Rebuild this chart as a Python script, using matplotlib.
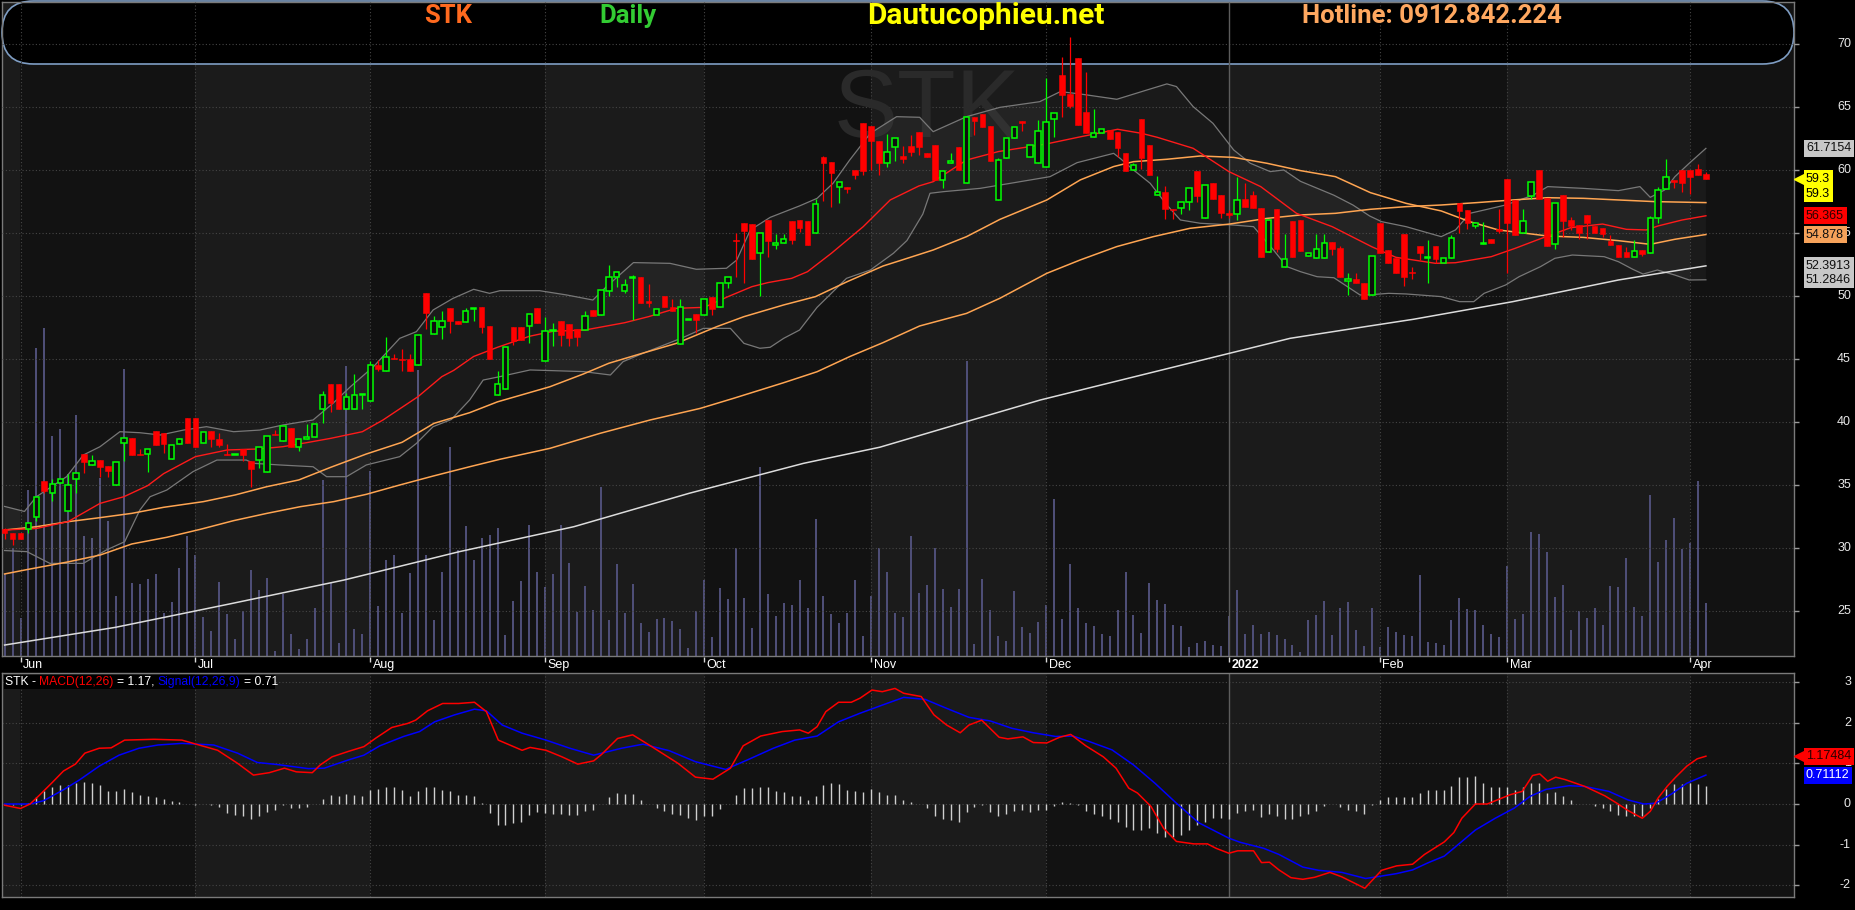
import numpy as np
import matplotlib.pyplot as plt
import matplotlib.transforms as mtransforms
from matplotlib.patches import FancyBboxPatch, Rectangle

plt.rcParams['font.family'] = ['Liberation Sans', 'DejaVu Sans']

# Time axis -------------------------------------------------------------
# bar index of the first session of each month (28 May 2021 .. 5 Apr 2022)
month_labels = ['Jun', 'Jul', 'Aug', 'Sep', 'Oct', 'Nov', 'Dec', '2022', 'Feb', 'Mar', 'Apr']
month_idx = [2, 24, 46, 68, 88, 109, 131, 154, 173, 189, 212]

# Daily candles (price, thousand VND) -----------------------------------
opens = [
    31.48, 31.16, 31.16, 31.48, 32.49, 35.32, 34.34, 35.13, 32.96, 35.50,
    37.46, 36.56, 36.98, 36.51, 35.03, 38.31, 38.70, 37.46, 37.46, 39.31,
    39.15, 37.04, 38.25, 40.29, 40.29, 38.36, 39.31, 38.62, 37.46, 37.35,
    37.83, 36.93, 36.98, 36.00, 39.05, 38.47, 39.50, 37.99, 38.68, 38.78,
    41.00, 42.99, 42.99, 41.00, 41.00, 42.12, 41.69, 44.50, 44.02, 45.08,
    44.97, 44.97, 44.50, 50.21, 46.98, 47.51, 49.02, 47.99, 47.94, 48.98,
    49.10, 47.59, 42.12, 42.59, 47.51, 47.51, 47.65, 49.02, 44.82, 47.20,
    47.99, 47.78, 47.35, 47.30, 48.89, 48.47, 50.42, 51.48, 50.42, 51.40,
    51.48, 49.58, 48.49, 50.00, 49.10, 46.16, 48.07, 48.55, 48.47, 49.90,
    49.10, 51.01, 54.45, 55.77, 55.71, 53.44, 56.03, 54.02, 54.18, 55.93,
    56.03, 55.93, 54.97, 61.00, 60.64, 58.62, 58.62, 60.00, 63.70, 63.49,
    62.28, 60.53, 61.80, 61.11, 61.90, 63.02, 61.38, 61.96, 59.21, 60.53,
    61.80, 58.99, 64.18, 64.42, 63.49, 57.62, 60.95, 62.54, 63.89, 61.00,
    60.58, 60.21, 64.02, 67.54, 66.03, 68.92, 64.60, 62.65, 62.91, 63.17,
    63.02, 61.32, 59.97, 64.05, 61.96, 57.99, 58.25, 56.93, 56.96, 57.49,
    59.95, 56.16, 58.99, 57.99, 56.56, 56.50, 57.67, 57.99, 56.96, 53.47,
    56.90, 52.27, 55.93, 56.03, 53.18, 52.99, 52.99, 54.29, 53.78, 51.16,
    51.32, 51.00, 50.05, 55.77, 53.65, 53.04, 54.92, 51.93, 53.99, 52.99,
    53.97, 52.64, 52.99, 57.35, 56.82, 55.58, 54.13, 54.50, 55.29, 59.28,
    57.62, 54.97, 57.96, 60.00, 57.78, 54.13, 58.01, 56.03, 55.63, 56.43,
    55.58, 55.37, 54.34, 54.05, 53.49, 53.07, 53.65, 53.38, 56.16, 58.46,
    59.18, 59.97, 59.97, 60.05, 59.71]
highs = [
    31.60, 31.16, 31.16, 31.96, 34.07, 35.32, 35.45, 35.45, 35.87, 35.92,
    37.46, 37.35, 36.98, 36.51, 36.83, 38.70, 38.70, 37.85, 37.88, 39.31,
    39.15, 38.20, 38.76, 40.29, 40.29, 39.23, 39.31, 39.15, 38.25, 37.38,
    37.83, 36.93, 37.99, 38.90, 39.36, 39.66, 39.50, 38.68, 39.84, 39.81,
    42.43, 42.99, 42.99, 42.33, 43.81, 42.17, 44.87, 44.92, 46.72, 45.40,
    45.77, 45.40, 46.93, 50.21, 48.41, 48.78, 49.02, 47.99, 49.02, 49.08,
    49.10, 47.59, 44.05, 45.98, 47.51, 47.51, 48.55, 49.02, 48.36, 47.88,
    47.99, 47.78, 47.35, 48.81, 48.89, 50.45, 52.46, 51.93, 51.32, 51.64,
    51.48, 50.93, 48.99, 50.00, 49.74, 49.74, 48.12, 48.55, 49.74, 49.90,
    51.06, 51.48, 54.97, 55.77, 55.71, 54.97, 56.03, 54.92, 54.92, 55.93,
    56.03, 55.93, 57.70, 61.11, 60.64, 59.02, 58.62, 60.00, 63.70, 63.49,
    62.28, 62.86, 62.51, 61.90, 62.80, 63.02, 61.38, 61.96, 59.95, 61.38,
    61.80, 64.18, 64.18, 64.42, 63.49, 60.95, 62.54, 63.44, 63.89, 61.96,
    63.97, 67.28, 64.50, 69.00, 70.58, 68.92, 67.80, 64.81, 63.25, 63.17,
    63.02, 61.32, 60.58, 64.05, 61.96, 59.53, 58.73, 56.93, 57.49, 58.60,
    59.95, 58.84, 58.99, 57.99, 56.82, 59.47, 58.94, 58.36, 56.96, 56.03,
    56.90, 54.92, 55.93, 56.03, 53.44, 54.92, 54.92, 54.29, 53.97, 51.80,
    51.85, 51.00, 53.17, 55.77, 53.65, 53.04, 54.92, 52.33, 53.99, 54.44,
    53.97, 52.99, 54.84, 57.35, 56.82, 55.90, 55.90, 54.50, 56.88, 59.28,
    57.62, 56.88, 59.02, 60.00, 57.78, 57.35, 58.01, 56.30, 55.63, 56.43,
    55.58, 55.37, 54.81, 54.05, 53.86, 54.44, 53.65, 56.35, 58.68, 60.84,
    59.18, 59.97, 59.97, 60.47, 59.81]
lows = [
    30.70, 30.24, 30.74, 31.20, 32.17, 34.39, 33.76, 35.13, 32.96, 34.39,
    35.98, 36.56, 35.66, 35.66, 35.03, 36.93, 37.41, 37.40, 36.06, 38.20,
    37.51, 37.04, 38.25, 38.36, 38.04, 38.36, 38.00, 38.04, 37.35, 37.35,
    36.93, 34.81, 36.32, 36.00, 38.94, 38.47, 37.99, 37.72, 38.68, 38.78,
    39.89, 40.82, 41.00, 41.00, 41.00, 41.06, 41.69, 44.07, 44.02, 44.97,
    44.07, 44.02, 44.50, 47.35, 46.98, 46.56, 47.04, 47.78, 47.94, 48.04,
    47.04, 44.97, 42.12, 42.59, 46.11, 46.51, 46.24, 47.88, 44.82, 46.03,
    46.06, 46.03, 46.03, 47.30, 48.44, 48.47, 50.03, 50.74, 50.26, 48.10,
    49.47, 49.16, 48.49, 49.10, 48.78, 46.16, 48.07, 47.07, 48.47, 48.52,
    49.10, 50.66, 51.53, 51.06, 52.96, 50.00, 53.12, 53.70, 54.18, 54.13,
    55.11, 54.07, 54.97, 57.57, 57.04, 57.36, 58.15, 59.26, 59.58, 60.00,
    59.63, 60.27, 60.74, 60.58, 61.11, 61.22, 61.06, 59.21, 58.54, 60.53,
    60.00, 58.99, 62.75, 63.44, 60.74, 57.62, 60.95, 62.54, 63.07, 61.00,
    60.58, 60.21, 62.65, 64.18, 64.90, 63.57, 62.91, 62.65, 62.91, 62.46,
    61.06, 59.95, 59.97, 60.11, 59.58, 57.99, 56.08, 56.08, 56.50, 56.82,
    57.49, 56.16, 57.67, 56.19, 56.19, 56.03, 57.09, 56.96, 53.12, 53.47,
    53.47, 52.27, 53.07, 53.60, 53.18, 52.99, 52.99, 53.23, 51.53, 50.05,
    51.00, 49.73, 50.05, 53.38, 52.59, 51.85, 50.79, 51.32, 52.86, 51.00,
    52.59, 52.64, 52.99, 54.97, 55.29, 55.37, 54.13, 54.23, 54.97, 51.80,
    54.84, 54.97, 57.67, 57.70, 53.99, 53.70, 54.71, 55.24, 54.50, 54.50,
    54.97, 54.65, 54.02, 53.12, 53.07, 53.07, 53.17, 53.38, 55.82, 58.46,
    58.54, 58.28, 58.10, 59.58, 59.30]
closes = [
    31.17, 30.74, 30.74, 31.96, 34.07, 34.55, 35.05, 35.45, 34.97, 35.92,
    36.83, 36.93, 36.45, 36.14, 36.83, 38.70, 37.41, 37.40, 37.88, 38.20,
    38.25, 38.20, 38.62, 38.36, 38.04, 39.23, 38.62, 38.20, 37.35, 37.38,
    37.35, 36.24, 37.99, 38.90, 38.94, 39.66, 37.99, 38.68, 38.76, 39.81,
    42.12, 41.48, 41.00, 41.96, 42.12, 42.17, 44.50, 44.23, 45.19, 44.97,
    44.93, 44.02, 46.93, 48.62, 47.99, 47.99, 47.99, 47.78, 48.78, 49.08,
    47.57, 44.97, 42.99, 45.98, 46.46, 46.51, 48.55, 47.88, 47.20, 47.30,
    46.88, 46.67, 46.72, 48.41, 48.44, 50.45, 51.48, 51.93, 50.85, 51.48,
    49.47, 49.47, 48.99, 49.10, 48.78, 49.16, 48.12, 48.12, 49.74, 48.99,
    51.06, 51.48, 54.34, 55.19, 52.96, 54.97, 54.39, 54.18, 54.50, 54.45,
    55.40, 54.07, 57.28, 60.53, 59.79, 59.02, 58.47, 59.63, 59.90, 62.33,
    60.53, 61.40, 62.51, 60.90, 61.43, 61.80, 61.06, 59.21, 59.95, 60.74,
    60.00, 64.18, 63.86, 63.44, 60.74, 60.79, 62.54, 63.44, 63.70, 61.96,
    63.07, 63.81, 64.50, 65.95, 65.08, 63.57, 62.91, 62.91, 63.25, 62.46,
    61.77, 59.95, 60.37, 60.95, 59.58, 58.25, 56.93, 56.82, 57.49, 58.60,
    57.94, 58.84, 57.67, 56.56, 56.40, 57.62, 57.09, 56.96, 53.12, 56.03,
    53.73, 52.96, 53.07, 53.60, 53.44, 53.73, 54.18, 53.70, 51.53, 51.32,
    51.00, 49.73, 53.17, 53.38, 52.59, 51.85, 51.53, 51.85, 53.38, 53.12,
    52.96, 52.99, 54.57, 56.77, 55.82, 55.77, 54.18, 54.23, 55.19, 55.77,
    54.84, 55.95, 59.02, 57.70, 53.99, 57.35, 55.98, 55.56, 54.97, 55.77,
    54.97, 54.89, 54.02, 53.12, 53.07, 53.60, 53.33, 56.16, 58.38, 59.42,
    59.02, 58.99, 59.42, 59.58, 59.30]

# Volume (relative units) -------------------------------------------------
volume = [
    82, 108, 38, 166, 308, 328, 220, 227, 182, 241,
    120, 118, 178, 135, 60, 287, 73, 72, 77, 82,
    43, 54, 88, 120, 101, 39, 25, 74, 42, 17,
    45, 86, 66, 78, 5, 62, 22, 7, 17, 48,
    176, 73, 13, 290, 27, 22, 185, 50, 96, 101,
    43, 83, 286, 101, 36, 84, 209, 106, 130, 96,
    118, 121, 128, 21, 55, 75, 131, 84, 69, 82,
    131, 93, 44, 70, 46, 169, 36, 92, 43, 72,
    33, 24, 37, 38, 35, 27, 8, 45, 76, 19,
    68, 57, 108, 58, 28, 189, 62, 40, 53, 51,
    76, 48, 137, 60, 42, 33, 43, 76, 20, 60,
    108, 84, 43, 39, 120, 63, 71, 108, 67, 49,
    67, 295, 12, 77, 46, 20, 15, 65, 29, 23,
    34, 51, 157, 37, 92, 48, 33, 30, 22, 20,
    46, 84, 41, 23, 73, 56, 52, 31, 30, 9,
    13, 15, 11, 10, 40, 66, 22, 31, 22, 24,
    21, 17, 11, 4, 36, 41, 55, 21, 48, 54,
    26, 10, 48, 9, 29, 24, 21, 20, 81, 14,
    13, 11, 36, 58, 47, 46, 31, 22, 19, 90,
    37, 42, 124, 122, 104, 59, 71, 26, 45, 38,
    48, 31, 70, 69, 98, 49, 40, 161, 94, 116,
    138, 107, 113, 175, 53]

# Moving averages (sampled along the curves) ----------------------------
ma20_x = [0, 4, 8, 12, 15, 18, 20, 24, 28, 32, 35, 38, 41, 45, 47.6, 52, 55, 56.5, 59, 62,
          66, 69, 73, 78, 81, 84.5, 88, 91, 94, 96, 99, 101, 104, 108, 111.4, 115, 116.8, 121, 125, 131,
          135, 140, 143, 145, 149.5, 154, 158, 162.5, 167, 172, 175, 180, 182.5, 187, 190, 193, 197, 201,
          204, 206.5, 208, 211, 214]
ma20_y = [31.43, 31.55, 32.1, 33.54, 34.07, 34.95, 35.9, 37.25, 37.78, 37.86, 38.04, 38.36, 38.7, 39.23,
          40.16, 42.01, 43.6, 44.1, 45.2, 45.93, 46.8, 47.2, 47.3, 47.88, 48.36, 49.02, 49.1, 49.95, 50.74,
          51.06, 51.4, 51.93, 53.39, 55.5, 57.62, 58.73, 59.07, 60.79, 61.46, 62.06, 62.59, 63.23, 62.91,
          62.59, 61.72, 59.87, 58.68, 56.56, 55.5, 53.9, 53.07, 52.59, 52.64, 53.12, 53.78, 54.5, 55.42,
          55.71, 55.29, 55.24, 55.56, 56.03, 56.365]
ma50_x = [0, 4, 8, 12, 16, 20, 25, 29, 33, 37, 41, 45.5, 50, 54, 58.5, 62, 68.6, 72.8, 76, 79.5,
          84.5, 89.6, 93, 98, 102, 106, 110.5, 112.6, 116.8, 121, 125.2, 131.1, 135.3, 139.5, 142, 146.2,
          150.4, 154.6, 158.8, 163, 167.4, 171.8, 176.3, 180.7, 184.3, 187.9, 191.4, 194.1, 198.6, 203,
          207, 210.1, 214]
ma50_y = [31.43, 31.69, 32.09, 32.41, 32.75, 33.23, 33.68, 34.21, 34.87, 35.4, 36.4, 37.46, 38.39, 39.89,
          40.74, 41.6, 42.8, 43.81, 44.66, 45.32, 46.24, 47.57, 48.36, 49.29, 49.95, 51.14, 52.38, 52.8,
          53.65, 54.71, 56.08, 57.62, 59.21, 60.27, 60.66, 60.85, 61.11, 61.0, 60.53, 59.95, 59.47, 58.2,
          57.35, 56.75, 55.9, 55.24, 54.97, 54.76, 54.65, 54.39, 54.1, 54.5, 54.878]
ma100_x = [0, 3, 8, 12, 16, 20.4, 24.6, 28.8, 33, 37.2, 41.4, 45.5, 49.7, 53.9, 58.5, 62.3, 68.6, 74.9,
           81.2, 87.5, 91.7, 98, 102.2, 106.3, 110.5, 115.1, 121, 125.2, 131.1, 135.3, 139.9, 144.5, 149.1,
           154.1, 158.8, 163, 167.4, 171.8, 176.3, 180.7, 185.2, 189.7, 194.1, 198.6, 203, 207.5, 214]
ma100_y = [27.94, 28.31, 28.9, 29.44, 30.32, 30.85, 31.48, 32.17, 32.75, 33.28, 33.68, 34.26, 35.0, 35.71,
           36.45, 37.04, 37.91, 39.1, 40.16, 41.08, 41.88, 43.12, 43.99, 45.19, 46.30, 47.62, 48.62, 49.82,
           51.8, 52.86, 53.92, 54.71, 55.37, 55.71, 56.16, 56.43, 56.56, 56.88, 57.09, 57.22, 57.41, 57.62,
           57.8, 57.75, 57.62, 57.49, 57.41]
ma200_x = [0, 13.9, 28.3, 42.7, 57.2, 71.6, 86.1, 100.5, 110.1, 121, 130.3, 161.7, 171.7, 177.2, 189.7, 203, 214]
ma200_y = [22.3, 23.7, 25.56, 27.46, 29.71, 31.69, 34.34, 36.72, 38.0, 40.03, 41.75, 46.64, 47.62, 48.15,
           49.55, 51.27, 52.3913]

# Bollinger bands ---------------------------------------------------------
bb_up_x = [0, 2.5, 4, 7.8, 9.9, 12, 14.5, 17, 19.6, 22.5, 25.4, 28.8, 32.1, 35, 38.8, 41.3, 43.5, 46.4,
           49.7, 51.8, 53.9, 56.4, 59, 61, 62.3, 67.3, 70.7, 74, 75.7, 79.1, 83.7, 87, 90.8, 92.1, 93.8,
           96.3, 100, 102.2, 104.2, 106.3, 108.9, 112.2, 115.1, 116.8, 121, 125.2, 130.2, 132.8, 135.3,
           139.9, 143.7, 146.2, 147.4, 149.5, 152, 154.6, 156.7, 159.2, 160.9, 163, 167.2, 169.6, 171.7,
           173.2, 176.3, 180.7, 182.5, 184.3, 186.1, 188.8, 192.3, 194.1, 198.6, 203, 205.7, 207, 208.8,
           210.1, 211.9, 214]
bb_up_y = [33.3, 32.9, 34.07, 35.66, 37.38, 38.04, 39.23, 39.15, 38.97, 39.36, 39.63, 39.23, 39.36, 39.76,
           40.16, 41.48, 42.8, 44.39, 46.64, 47.17, 48.89, 49.81, 50.53, 50.21, 50.42, 50.42, 50.08, 49.68,
           50.74, 52.65, 52.59, 52.12, 52.2, 52.86, 55.24, 56.24, 57.15, 57.75, 58.94, 60.79, 62.91, 64.23,
           64.18, 63.04, 64.23, 64.97, 65.42, 66.22, 66.03, 65.61, 66.35, 66.83, 66.62, 65.03, 63.7, 61.59,
           60.53, 59.87, 60.0, 59.1, 58.0, 57.22, 56.35, 55.9, 55.5, 54.71, 55.24, 56.56, 56.82, 57.22,
           58.01, 58.68, 58.54, 58.36, 58.68, 57.83, 58.41, 59.47, 60.53, 61.7154]
bb_lo_x = [0, 2.8, 5.7, 9.9, 12.8, 15.1, 17, 18.3, 20.4, 23.7, 26.7, 30.4, 31.3, 34.6, 38.8, 40.5, 43,
           45.5, 49.7, 51.8, 53.9, 56.2, 58.5, 60.2, 62.3, 66.1, 72.8, 76.2, 77.8, 80.3, 85.4, 87.9, 91.3,
           93, 95, 96.3, 98, 100, 102.2, 104.2, 105.9, 108.9, 111.8, 113.5, 114.3, 115.5, 116.4, 118.1,
           122.7, 126.5, 131.5, 134.9, 139.5, 140.3, 142, 144.1, 146.2, 147.9, 150.4, 154.6, 157.1, 159.6,
           161.3, 163, 165.1, 167.2, 170.5, 171.8, 174.1, 176.3, 180.7, 183, 184.8, 186.1, 188.8, 190.5,
           193.2, 195, 197.2, 201.2, 203, 204.8, 206.1, 207.9, 210.1, 211.9, 214]
bb_lo_y = [29.8, 29.71, 28.78, 28.78, 29.84, 30.5, 33.0, 34.07, 34.6, 36.06, 36.98, 36.98, 36.72, 36.59,
           36.45, 35.66, 35.66, 36.59, 37.25, 38.3, 39.63, 40.2, 41.75, 43.33, 43.6, 44.13, 44.0, 43.73,
           44.79, 45.45, 46.72, 47.43, 47.43, 46.24, 45.85, 45.93, 46.64, 47.3, 49.1, 50.34, 51.4, 52.06,
           53.39, 54.4, 55.24, 56.5, 58.15, 58.28, 58.54, 58.94, 59.47, 60.58, 61.32, 60.93, 60.0, 58.94,
           57.22, 56.03, 55.77, 55.63, 55.5, 53.65, 52.33, 51.93, 51.53, 51.45, 50.08, 50.1, 50.21, 50.16,
           49.95, 49.55, 49.55, 50.21, 50.87, 51.53, 52.33, 52.99, 53.25, 53.12, 52.72, 52.12, 51.74,
           52.06, 51.66, 51.27, 51.2846]

# MACD(12,26) and signal(9) -------------------------------------------
macd_x = [0, 2, 3.2, 4.4, 5.9, 7.4, 8.9, 10.1, 11.9, 13.4,
          15.1, 18.8, 22.3, 24.3, 26.8, 29.3, 31.3, 33.3, 35.2, 36.7,
          38.7, 39.7, 41.2, 43.2, 45.2, 46.7, 48.7, 50.7, 51.7, 53.2,
          55.1, 57.1, 59.1, 60.6, 62.1, 65.1, 66.1, 68.1, 70.1, 72.1,
          74.1, 75.1, 77.1, 79, 81.4, 84.7, 86.9, 89.1, 91.3, 92.9,
          95.1, 97.8, 100, 101.1, 102.2, 103.3, 104.9, 106.5, 107.6, 109.1,
          110.4, 112, 113.1, 115.3, 116.9, 118.5, 120.2, 121.3, 122.9, 125.1,
          126.2, 128.1, 129.4, 131.1, 132.7, 134.1, 136, 138.2, 139.8, 141.4,
          142.5, 144.2, 145.8, 147.4, 149.6, 151.3, 152.4, 154, 155.1, 157.1,
          158.1, 159.1, 160.3, 161.8, 163.3, 164.8, 166.7, 168.2, 171.1, 173.2,
          175.1, 177.1, 178.6, 181.1, 182.3, 183.3, 185, 186.5, 188, 189.4,
          190.9, 192.2, 193.1, 194.1, 195.1, 196.3, 198.8, 201.3, 202.8, 204.2,
          206, 207, 208, 209.2, 210.2, 211.6, 212.9, 214]
macd_y = [-0.03, -0.11, 0.0, 0.22, 0.51, 0.81, 0.98, 1.25, 1.37, 1.38,
          1.57, 1.59, 1.57, 1.46, 1.32, 1.0, 0.71, 0.77, 0.88, 0.79,
          0.77, 0.96, 1.16, 1.29, 1.41, 1.62, 1.88, 1.98, 2.06, 2.29,
          2.47, 2.47, 2.5, 2.27, 1.57, 1.32, 1.39, 1.32, 1.16, 0.98,
          1.06, 1.22, 1.61, 1.7, 1.41, 1.0, 0.66, 0.61, 0.88, 1.43,
          1.67, 1.78, 1.82, 1.74, 1.9, 2.27, 2.5, 2.5, 2.6, 2.8,
          2.76, 2.84, 2.72, 2.64, 2.19, 1.94, 1.75, 1.94, 2.06, 1.64,
          1.6, 1.65, 1.51, 1.5, 1.64, 1.71, 1.43, 1.16, 0.88, 0.39,
          0.27, -0.06, -0.6, -0.92, -0.98, -0.98, -1.09, -1.21, -1.15, -1.15,
          -1.44, -1.43, -1.62, -1.81, -1.85, -1.8, -1.68, -1.79, -2.07, -1.63,
          -1.52, -1.48, -1.24, -0.93, -0.70, -0.35, 0.0, 0.0, 0.12, 0.23,
          0.31, 0.7, 0.74, 0.56, 0.66, 0.6, 0.43, 0.2, 0.02, -0.16,
          -0.35, -0.18, 0.15, 0.45, 0.66, 0.93, 1.11, 1.17484]
signal_x = [0, 3.2, 4.9, 7.4, 9.4, 11.9, 14.4, 16.9, 19.3, 22.3,
            26.3, 29.3, 31.8, 34.3, 38.2, 40.2, 43.2, 45.2, 47.2, 50.2,
            52.2, 54.1, 56.6, 59.1, 60.6, 62.6, 65.1, 68.1, 71.1, 74.1,
            77.6, 80.3, 83.6, 86.9, 90.7, 93.4, 96.7, 99.4, 102.2, 104.9,
            107.6, 110.4, 113.1, 115.8, 118.5, 121.3, 124, 126.7, 129.4, 132.2,
            134.4, 136.5, 139.3, 142, 144.7, 147.4, 150.2, 154, 155.4, 158.4,
            160.3, 163.3, 165.3, 168.2, 171.2, 173.2, 175.1, 177.1, 179.1, 181.1,
            183, 185, 187.5, 189.9, 191.9, 193.9, 196.8, 198.8, 201.8, 204.2,
            206.2, 207.7, 209.7, 211.6, 214]
signal_y = [0.0, 0.0, 0.08, 0.35, 0.59, 0.93, 1.2, 1.37, 1.45, 1.49,
            1.45, 1.25, 1.02, 0.97, 0.87, 0.88, 1.08, 1.2, 1.43, 1.66,
            1.78, 2.02, 2.19, 2.33, 2.29, 1.94, 1.74, 1.57, 1.37, 1.2,
            1.37, 1.47, 1.31, 1.04, 0.85, 1.08, 1.37, 1.57, 1.67, 2.02,
            2.23, 2.43, 2.62, 2.57, 2.35, 2.13, 2.04, 1.86, 1.75, 1.66,
            1.67, 1.53, 1.33, 0.96, 0.51, 0.02, -0.46, -0.84, -0.94, -1.09,
            -1.24, -1.55, -1.63, -1.68, -1.83, -1.77, -1.71, -1.62, -1.44, -1.28,
            -0.97, -0.64, -0.35, -0.1, 0.19, 0.36, 0.45, 0.43, 0.31, 0.1,
            0.0, 0.02, 0.25, 0.51, 0.71112]
hist = [
    0.0, -0.03, -0.03, 0.02, 0.17, 0.31, 0.41, 0.46, 0.46, 0.52,
    0.53, 0.52, 0.46, 0.33, 0.31, 0.38, 0.3, 0.21, 0.2, 0.16,
    0.13, 0.08, 0.05, 0.01, -0.02, -0.01, -0.03, -0.08, -0.22, -0.26,
    -0.3, -0.38, -0.3, -0.2, -0.14, -0.03, -0.1, -0.1, -0.07, 0.0,
    0.13, 0.21, 0.2, 0.25, 0.23, 0.2, 0.34, 0.38, 0.41, 0.41,
    0.35, 0.2, 0.31, 0.43, 0.43, 0.35, 0.33, 0.23, 0.21, 0.19,
    0.02, -0.22, -0.52, -0.52, -0.47, -0.43, -0.28, -0.2, -0.22, -0.24,
    -0.24, -0.28, -0.26, -0.18, -0.14, 0.0, 0.17, 0.27, 0.25, 0.25,
    0.09, 0.0, -0.1, -0.18, -0.24, -0.28, -0.34, -0.39, -0.3, -0.29,
    -0.12, 0.0, 0.23, 0.39, 0.39, 0.43, 0.41, 0.33, 0.29, 0.2,
    0.2, 0.11, 0.2, 0.46, 0.52, 0.48, 0.35, 0.33, 0.29, 0.38,
    0.29, 0.23, 0.23, 0.11, 0.04, 0.0, -0.1, -0.3, -0.37, -0.39,
    -0.43, -0.2, -0.07, -0.03, -0.2, -0.29, -0.24, -0.18, -0.14, -0.2,
    -0.14, -0.14, -0.06, 0.04, 0.02, -0.03, -0.16, -0.25, -0.29, -0.37,
    -0.43, -0.57, -0.63, -0.63, -0.59, -0.71, -0.82, -0.8, -0.77, -0.65,
    -0.52, -0.44, -0.34, -0.34, -0.36, -0.22, -0.18, -0.14, -0.33, -0.25,
    -0.3, -0.36, -0.36, -0.29, -0.24, -0.16, -0.06, 0.0, -0.08, -0.14,
    -0.16, -0.24, -0.03, 0.11, 0.16, 0.16, 0.16, 0.16, 0.27, 0.34,
    0.34, 0.35, 0.45, 0.66, 0.66, 0.68, 0.52, 0.43, 0.43, 0.43,
    0.34, 0.43, 0.52, 0.52, 0.27, 0.29, 0.2, 0.11, 0.0, 0.0,
    -0.06, -0.1, -0.18, -0.28, -0.3, -0.3, -0.3, -0.1, 0.12, 0.37,
    0.5, 0.5, 0.52, 0.5, 0.45]

# Figure layout (pixel geometry of the original screenshot) -------------
W, H = 1855, 910
fig = plt.figure(figsize=(W / 100, H / 100), dpi=100, facecolor='black')
pix = mtransforms.Affine2D().scale(1.0 / W, -1.0 / H).translate(0, 1) + fig.transFigure


def px_box(x0, y0, x1, y1):
    return [x0 / W, 1 - y1 / H, (x1 - x0) / W, (y1 - y0) / H]


BAR0, BAR_W = 4.6, 7.95      # pixel x of bar 0 and bar spacing
PLOT_L, PLOT_R = 2, 1794
xlim = ((PLOT_L - BAR0) / BAR_W, (PLOT_R - BAR0) / BAR_W)
P_LIM = (21.43, 73.33)
M_LIM = (-2.285, 3.219)
DARK, LIGHT = '#121212', '#1b1b1b'
GRID = dict(color='#454545', lw=0.8, linestyles=(0, (1, 2)))

ax_vol = fig.add_axes(px_box(PLOT_L, 2, PLOT_R, 656), facecolor=DARK)
ax = fig.add_axes(px_box(PLOT_L, 2, PLOT_R, 656))
ax_m = fig.add_axes(px_box(PLOT_L, 673, PLOT_R, 897), facecolor=DARK)
ax_d = fig.add_axes(px_box(PLOT_L, 656, PLOT_R, 673))    # date band
ax_rp = fig.add_axes(px_box(PLOT_R, 2, W, 656))          # price scale
ax_rm = fig.add_axes(px_box(PLOT_R, 673, W, 897))        # MACD scale

for a in (ax_vol, ax, ax_m):
    a.set_xlim(*xlim)
    a.set_xticks([])
    a.set_yticks([])
    for s in a.spines.values():
        s.set_color('#7a7a7a')
        s.set_linewidth(1)
ax.patch.set_visible(False)
for s in ax.spines.values():
    s.set_visible(False)
ax_vol.set_ylim(0, 654)
ax.set_ylim(*P_LIM)
ax_m.set_ylim(*M_LIM)

ax_d.set_xlim(*xlim)
ax_d.set_ylim(673, 656)
ax_rp.set_xlim(PLOT_R, W)
ax_rp.set_ylim(*P_LIM)
ax_rm.set_xlim(PLOT_R, W)
ax_rm.set_ylim(*M_LIM)
for a in (ax_d, ax_rp, ax_rm):
    a.axis('off')


def month_bands(a):
    # alternate shading per month; the dark months are the axes background
    edges = [xlim[0]] + month_idx + [xlim[1]]
    for k in range(0, len(edges) - 1, 2):
        a.axvspan(edges[k], edges[k + 1], facecolor=LIGHT, edgecolor='none', lw=0, zorder=0)


def grid(a, levels, lim):
    a.hlines(levels, *xlim, zorder=1, **GRID)
    plain = [m for m, lab in zip(month_idx, month_labels) if lab != '2022']
    year = [m for m, lab in zip(month_idx, month_labels) if lab == '2022']
    a.vlines(plain, *lim, zorder=1, **GRID)
    a.vlines(year, *lim, color='#5c5c5c', lw=1, zorder=1)


month_bands(ax_vol)
month_bands(ax_m)

# title pill
pill = FancyBboxPatch((2, 1), 1792, 63, boxstyle='round,pad=0,rounding_size=31.5',
                      transform=pix, facecolor='black', edgecolor='#7f9ec4', lw=1.2, zorder=1)
pill.set_clip_on(False)
ax_vol.add_patch(pill)

x = np.arange(len(closes))
ax_vol.vlines(x, 0, volume, color='#50507a', lw=1.4, zorder=2)

# Price panel -------------------------------------------------------------
grid(ax, list(range(25, 75, 5)), P_LIM)

ax.text(0.516, 0.832, 'STK', transform=ax.transAxes, fontsize=69, color='#2a2a2a',
        ha='center', va='center', zorder=1.2)

ax.fill(bb_up_x + bb_lo_x[::-1], bb_up_y + bb_lo_y[::-1], facecolor='white', edgecolor='none',
        alpha=0.035, lw=0, zorder=1.5)
ax.plot(bb_up_x, bb_up_y, color='#787878', lw=0.9, zorder=2)
ax.plot(bb_lo_x, bb_lo_y, color='#787878', lw=0.9, zorder=2)
ax.plot(ma200_x, ma200_y, color='#dcdcdc', lw=1.1, zorder=2.5)
ax.plot(ma100_x, ma100_y, color='#ffa552', lw=1.1, zorder=2.5)
ax.plot(ma50_x, ma50_y, color='#ffa552', lw=1.1, zorder=2.5)
ax.plot(ma20_x, ma20_y, color='#ff1a1a', lw=1.0, zorder=2.6)

o = np.array(opens)
c = np.array(closes)
up = c >= o
body_lo = np.minimum(o, c)
body_h = np.maximum(np.abs(c - o), 0.09)
ax.vlines(x, lows, highs, colors=np.where(up, '#00ff00', '#ff0000'), lw=0.9, zorder=4)
ax.bar(x[~up], body_h[~up], bottom=body_lo[~up], width=0.72, color='#ff0000',
       edgecolor='#ff0000', lw=0.4, zorder=5)
ax.bar(x[up], body_h[up], bottom=body_lo[up], width=0.68, facecolor='#0e0e0e',
       edgecolor='#00ff00', lw=1.1, zorder=5)


# right-hand scales and value tags
def scale(a, ticks):
    a.hlines(ticks, PLOT_R, PLOT_R + 5, color='#9a9a9a', lw=1)
    for v in ticks:
        a.text(1851, v, str(v), ha='right', va='center', color='#e8e8e8', fontsize=9)


def tag(a, yval, label, bg, fg, arrow=False, shift=0):
    trans = a.transData + mtransforms.ScaledTranslation(0, -shift / 100, fig.dpi_scale_trans)
    if arrow:
        a.plot([1800], [yval], marker='<', ms=9, color=bg, transform=trans, clip_on=False, zorder=9)
    a.text(1806, yval, label, transform=trans, ha='left', va='center', fontsize=9, color=fg,
           bbox=dict(boxstyle='square,pad=0.2', fc=bg, ec='none'), zorder=10, clip_on=False)


scale(ax_rp, list(range(25, 75, 5)))
tag(ax_rp, bb_up_y[-1], f'{bb_up_y[-1]:g}', '#c8c8c8', '#101010')
tag(ax_rp, closes[-1], f'{closes[-1]:g}', '#ffff00', '#000000', arrow=True)
tag(ax_rp, closes[-1], f'{closes[-1]:g}', '#ffff00', '#000000', shift=15)
tag(ax_rp, ma20_y[-1], f'{ma20_y[-1]:g}', '#ff0000', '#2a0000')
tag(ax_rp, ma50_y[-1], f'{ma50_y[-1]:g}', '#f6a25a', '#101010')
tag(ax_rp, ma200_y[-1], f'{ma200_y[-1]:g}', '#c8c8c8', '#101010')
tag(ax_rp, bb_lo_y[-1], f'{bb_lo_y[-1]:g}', '#c8c8c8', '#101010')

scale(ax_rm, list(range(-2, 4)))
tag(ax_rm, macd_y[-1], f'{macd_y[-1]:g}', '#ff0000', '#2a0000', arrow=True)
tag(ax_rm, signal_y[-1], f'{signal_y[-1]:g}', '#0000ff', '#ffffff')

# titles
title_font = dict(transform=pix, ha='center', va='center', fontweight='bold',
                  family=['Roboto', 'DejaVu Sans'])
fig.text(448, 16, 'STK', color='#ff6a1f', fontsize=18.5, **title_font)
fig.text(628, 16, 'Daily', color='#33cc33', fontsize=18.5, **title_font)
fig.text(986, 16, 'Dautucophieu.net', color='#ffff00', fontsize=21.5, **title_font)
fig.text(1432, 16, 'Hotline: 0912.842.224', color='#ffa860', fontsize=18.5, **title_font)

# Date band -------------------------------------------------------------
ax_d.vlines(month_idx, 657, 662, color='#d8d8d8', lw=1)
lab_shift = ax_d.transData + mtransforms.ScaledTranslation(2.5 / 100, 0, fig.dpi_scale_trans)
for m, lab in zip(month_idx, month_labels):
    ax_d.text(m, 665, lab, transform=lab_shift, ha='left', va='center', color='white', fontsize=9,
              fontweight='bold' if lab == '2022' else 'normal')

# MACD panel --------------------------------------------------------------
grid(ax_m, list(range(-2, 4)), M_LIM)
ax_m.vlines(x, 0, hist, color='#cfcfcf', lw=1.0, zorder=3)
ax_m.plot(signal_x, signal_y, color='#0000ff', lw=1.1, zorder=4)
ax_m.plot(macd_x, macd_y, color='#ff0000', lw=1.1, zorder=5)

# legend line
ax_m.add_patch(Rectangle((4, 675), 271, 14, transform=pix, facecolor='black', edgecolor='none',
                         zorder=7, clip_on=False))
parts = [('STK -', 'white'), ('MACD(12,26)', '#ff0000'), (f'= {macd_y[-1]:.2f},', 'white'),
         ('Signal(12,26,9)', '#0000ff'), (f'= {signal_y[-1]:.2f}', 'white')]
t = ax_m.text(5, 682, parts[0][0], transform=pix, color=parts[0][1], fontsize=8.7,
              ha='left', va='center', zorder=8)
for s, col in parts[1:]:
    t = ax_m.annotate(s, xy=(1, 0.5), xycoords=t, xytext=(2.4, 0), textcoords='offset points',
                      ha='left', va='center', color=col, fontsize=8.7, zorder=8)

fig.savefig('out.png', dpi=100, facecolor='black')
